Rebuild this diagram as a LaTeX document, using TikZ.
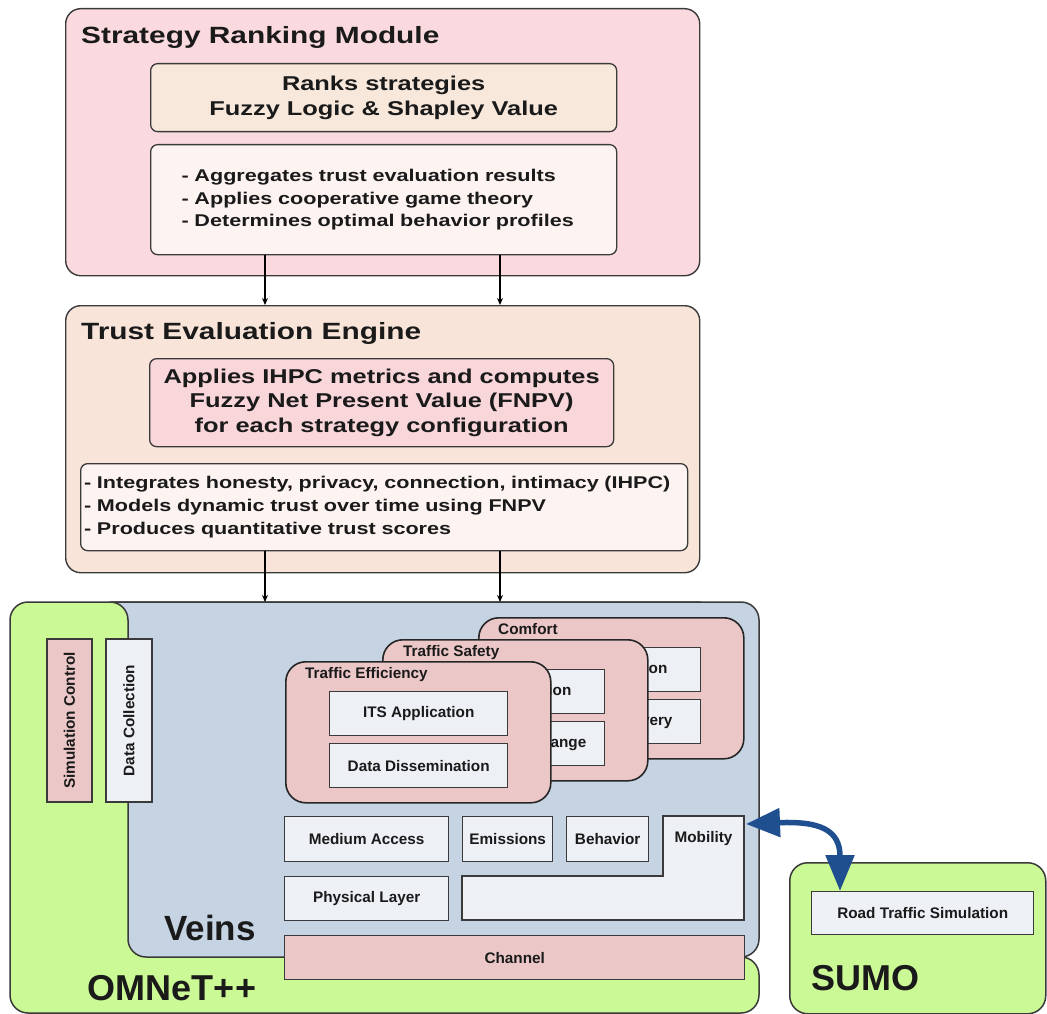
\documentclass[tikz,border=0pt]{standalone}
\usepackage{fontspec}
\setmainfont{Liberation Sans}
\newfontfamily\widefont[FakeStretch=1.27]{Liberation Sans}
\usetikzlibrary{arrows.meta,calc}
\definecolor{edge}{HTML}{3A3A3A}
\definecolor{srmfill}{HTML}{FADADE}
\definecolor{teefill}{HTML}{F8E4D8}
\definecolor{peach}{HTML}{F8E8DC}
\definecolor{pale}{HTML}{FDF3F1}
\definecolor{rose}{HTML}{F9D6DA}
\definecolor{veinsblue}{HTML}{C5D3E2}
\definecolor{lime}{HTML}{CBF995}
\definecolor{appink}{HTML}{EBC8C7}
\definecolor{boxwhite}{HTML}{EDF0F5}
\definecolor{ink}{HTML}{1A1A1A}
\definecolor{arrowblue}{HTML}{1F4F8F}
\begin{document}
\begin{tikzpicture}[x=1pt,y=-1pt,
  every node/.style={text=ink},
  bigframe/.style={draw=edge, line width=1.4pt, rounded corners=15pt, anchor=north west, inner sep=0pt},
  topbox/.style={draw=edge, line width=1.3pt, rounded corners=7pt, anchor=north west},
  titletext/.style={anchor=west, inner sep=0pt, font=\widefont\bfseries\fontsize{23.5}{28}\selectfont},
  headtext/.style={font=\widefont\bfseries\fontsize{20}{24.5}\selectfont, align=center, inner sep=0pt},
  bullettext/.style={font=\widefont\bfseries\fontsize{17}{22.8}\selectfont, align=left, inner ysep=0pt},
  flow/.style={-{Stealth[length=7pt,width=6pt]}, line width=1.2pt, draw=black},
  lab/.style={font=\bfseries\fontsize{15.3}{18}\selectfont},
  modbox/.style={draw=edge, line width=1.4pt, fill=boxwhite, anchor=north west, inner sep=0pt, lab},
  appbox/.style={draw=black!85, line width=1.6pt, fill=appink, rounded corners=20pt, anchor=north west, minimum width=265, minimum height=141, inner sep=0pt},
  bigtext/.style={font=\bfseries\fontsize{36}{40}\selectfont, inner sep=0pt},
  ghost/.style={inner sep=0pt, outer sep=0pt, anchor=north west}
]
\useasboundingbox (0,0) rectangle (1047,1014);

% ---------------- Strategy Ranking Module
\node[bigframe, fill=srmfill, minimum width=634, minimum height=267] (srm) at (65,8) {};
\node[titletext] (srmt) at (81,37) {Strategy Ranking Module};
\node[topbox, fill=peach, minimum width=466, minimum height=68, headtext] (ranks) at (150,63)
  {Ranks strategies\\Fuzzy Logic \& Shapley Value};
\node[topbox, fill=pale, minimum width=466, minimum height=110, bullettext, text width=404, inner xsep=31pt] (aggr) at (150,144)
  {- Aggregates trust evaluation results\\- Applies cooperative game theory\\- Determines optimal behavior profiles};

% ---------------- Trust Evaluation Engine
\node[bigframe, fill=teefill, minimum width=634, minimum height=267] (tee) at (65,305) {};
\node[titletext] (teet) at (81,333) {Trust Evaluation Engine};
\node[topbox, fill=rose, minimum width=464, minimum height=88, headtext] (ihpc) at (149,358)
  {Applies IHPC metrics and computes\\Fuzzy Net Present Value (FNPV)\\for each strategy configuration};
\node[topbox, fill=pale, minimum width=607, minimum height=87, bullettext, text width=600, inner xsep=3.5pt] (integ) at (80,463)
  {- Integrates honesty, privacy, connection, intimacy (IHPC)\\- Models dynamic trust over time using FNPV\\- Produces quantitative trust scores};

% ---------------- OMNeT++ and Veins
\node[ghost, minimum width=749, minimum height=411] (omnet) at (10,602) {};
\node[ghost, minimum width=631, minimum height=355] (veins) at (128,602) {};
\path[draw=edge, line width=1.5pt, fill=lime]
  (10,620) arc[start angle=180, end angle=270, radius=18] -- (700,602) -- (700,957) -- (741,957)
  arc[start angle=-90, end angle=0, radius=18] -- (759,995)
  arc[start angle=0, end angle=90, radius=18] -- (28,1013)
  arc[start angle=90, end angle=180, radius=18] -- cycle;
\path[draw=edge, line width=1.5pt, fill=veinsblue]
  (110,602) -- (741,602) arc[start angle=-90, end angle=0, radius=18]
  -- (759,939) arc[start angle=0, end angle=90, radius=18]
  -- (146,957) arc[start angle=90, end angle=180, radius=18]
  -- (128,620) arc[start angle=0, end angle=-90, radius=18] -- cycle;

\node[modbox, fill=appink, rotate=90, anchor=center, minimum width=163, minimum height=45] (simc) at (69.5,720.5) {Simulation Control};
\node[modbox, rotate=90, anchor=center, minimum width=163, minimum height=46] (datac) at (129,720.5) {Data Collection};

% application stacks
\node[appbox] (comfort) at (478,617) {};
\node[lab, anchor=base west, inner sep=0pt] (comfortt) at (498,634) {Comfort};
\node[modbox, minimum width=178, minimum height=44] (cits) at (522,647) {ITS Application};
\node[modbox, minimum width=178, minimum height=44] (ccd) at (522,699) {Content Delivery};

\node[appbox] (safety) at (382,639) {};
\node[lab, anchor=base west, inner sep=0pt] (safetyt) at (403,656) {Traffic Safety};
\node[modbox, minimum width=178, minimum height=44] (sits) at (426,669) {ITS Application};
\node[modbox, minimum width=178, minimum height=44] (sme) at (426,721) {Message Exchange};

\node[appbox] (effic) at (285,661) {};
\node[lab, anchor=base west, inner sep=0pt] (effict) at (305,678) {Traffic Efficiency};
\node[modbox, minimum width=178, minimum height=44] (eits) at (329,691) {ITS Application};
\node[modbox, minimum width=178, minimum height=44] (edd) at (329,743) {Data Dissemination};

% lower modules
\node[modbox, minimum width=164, minimum height=45] (mac) at (284,816) {Medium Access};
\node[modbox, minimum width=90, minimum height=45] (emis) at (462,816) {Emissions};
\node[modbox, minimum width=82, minimum height=45] (behav) at (566,816) {Behavior};
\node[modbox, minimum width=164, minimum height=44] (phy) at (284,876) {Physical Layer};
\path[draw=edge, line width=1.4pt, fill=boxwhite]
  (663,816) -- (744,816) -- (744,920) -- (462,920) -- (462,876) -- (663,876) -- cycle;
\node[ghost, minimum width=81, minimum height=60] (mob) at (663,816) {};
\node[lab, inner sep=0pt] (mobt) at (703.5,839) {Mobility};
\node[modbox, fill=appink, minimum width=460, minimum height=44] (chan) at (284,935) {Channel};

\node[bigtext, font=\bfseries\fontsize{35}{40}\selectfont] (veinst) at (210,928) {Veins};
\node[bigtext] (omnett) at (172,988) {OMNeT++};

% ---------------- SUMO
\node[draw=edge, line width=1.5pt, fill=lime, rounded corners=18pt, anchor=north west, minimum width=256, minimum height=151, inner sep=0pt] (sumo) at (789,862) {};
\node[modbox, minimum width=222, minimum height=43] (rts) at (811,891) {Road Traffic Simulation};
\node[bigtext] (sumot) at (865,978) {SUMO};

% ---------------- connectors
\coordinate (xa) at (265,0);
\coordinate (xb) at (500,0);
\coordinate (xs) at (840,0);
\draw[flow] (aggr.south -| xa) -- (tee.north -| xa);
\draw[flow] (aggr.south -| xb) -- (tee.north -| xb);
\draw[flow] (integ.south -| xa) -- (veins.north -| xa);
\draw[flow] (integ.south -| xb) -- (veins.north -| xb);
\draw[arrowblue, line width=5.5pt, {Triangle[length=34pt,width=28pt]}-{Triangle[length=36pt,width=28pt]}]
  ($(mob.north east)+(2,8)$) .. controls (820,821) and (840,830) .. (rts.north -| xs);
\end{tikzpicture}
\end{document}
